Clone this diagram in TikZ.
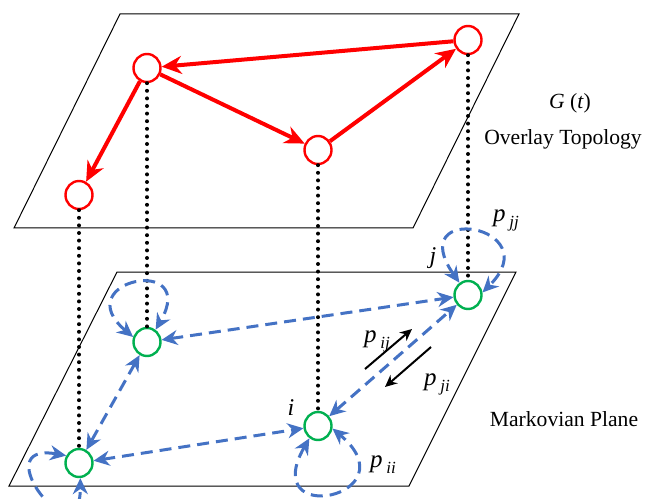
\documentclass[tikz,border=0pt]{standalone}
\usepackage{fontspec}
\setmainfont{Liberation Serif}
\usetikzlibrary{arrows.meta,shapes.geometric}

\definecolor{ovred}{RGB}{255,0,0}
\definecolor{mkblue}{RGB}{68,114,196}
\definecolor{mkgreen}{RGB}{0,176,80}

\newcommand{\prob}[1]{{\fontsize{12.5}{14}\selectfont\textit{p}}\,%
  \raisebox{-3pt}{\fontsize{8.5}{10}\selectfont\textit{#1}}}

\begin{document}
\begin{tikzpicture}[
  x=0.5pt, y=0.5pt,
  every node/.style = {font=\fontsize{10.8}{13}\selectfont},
  plane/.style = {draw, line width=0.5pt},
  peer/.style  = {ellipse, draw, fill=white, line width=1.2pt, inner sep=0pt,
                  minimum width=13.5pt, minimum height=14pt},
  opeer/.style = {peer, draw=ovred},
  mpeer/.style = {peer, draw=mkgreen},
  link/.style  = {-{Stealth[length=10pt,width=9pt]}, ovred, line width=2pt},
  trans/.style = {{Stealth[length=8pt,width=7.5pt]}-{Stealth[length=8pt,width=7.5pt]},
                  mkblue, line width=1.5pt, dash pattern=on 6pt off 3.5pt},
  drop/.style  = {line width=2pt, line cap=round, dash pattern=on 0pt off 3.8pt},
  flow/.style  = {-{Stealth[length=6pt,width=5.5pt]}, line width=1pt},
  lab/.style   = {inner sep=1pt},
  tag/.style   = {inner sep=1pt, font=\fontsize{12}{14}\selectfont\itshape}
]
\useasboundingbox (0,0) rectangle (646,498);
\clip (0,0) rectangle (646,498);

%% ---- planes -------------------------------------------------------
\draw[plane] (120,484) -- (519,484) -- (413,270) -- (14,270) -- cycle;
\draw[plane] (117,226) -- (516,226) -- (409,12) -- (9,12) -- cycle;

%% ---- overlay topology ---------------------------------------------
\node[opeer] (A) at (147,430) {};
\node[opeer] (B) at (468,458) {};
\node[opeer] (C) at (318,348) {};
\node[opeer] (D) at (79,303) {};

\draw[link] (B) -- (A);
\draw[link] (A) -- (C);
\draw[link] (C) -- (B);
\draw[link] (A) -- (D);

%% ---- markovian plane ----------------------------------------------
\node[mpeer] (E) at (147,156) {};
\node[mpeer] (F) at (468,203) {};
\node[mpeer] (G) at (318,72) {};
\node[mpeer] (H) at (79,35) {};

\draw[drop] (A) -- (E);
\draw[drop] (B) -- (F);
\draw[drop] (C) -- (G);
\draw[drop] (D) -- (H);

\draw[trans] (E) -- (F);
\draw[trans] (E) -- (H);
\draw[trans] (H) -- (G);
\draw[trans] (G) -- (F);

% self transitions
\draw[trans] (E.160) .. controls +(140:88) and +(60:88) .. (E.55);
\draw[trans] (F.125) .. controls +(125:100) and +(45:95) .. (F.10);
\draw[trans] (G.235) .. controls +(240:105) and +(-40:105) .. (G.350);
\draw[trans] (H.150) .. controls +(170:85) and +(270:85) .. (H.275);

\coordinate (ij0) at (365,129);
\coordinate (ij1) at (412,169);
\coordinate (ji0) at (431,151);
\coordinate (ji1) at (385,111);
\draw[flow] (ij0) -- (ij1);
\draw[flow] (ji0) -- (ji1);

%% ---- labels -------------------------------------------------------
\node[lab] (gt)  at (570,395) {\textit{G} (\textit{t})};
\node[lab] (ot)  at (563,359) {Overlay Topology};
\node[lab] (mp)  at (564,79)  {Markovian Plane};
\node[tag] (lj)  at (433,240) {j};
\node[tag] (li)  at (291,90)  {i};
\node[lab] (pjj) at (506,278) {\prob{jj}};
\node[lab] (pij) at (377,157) {\prob{ij}};
\node[lab] (pji) at (437,114) {\prob{ji}};
\node[lab] (pii) at (383,33)  {\prob{ii}};
\end{tikzpicture}
\end{document}
